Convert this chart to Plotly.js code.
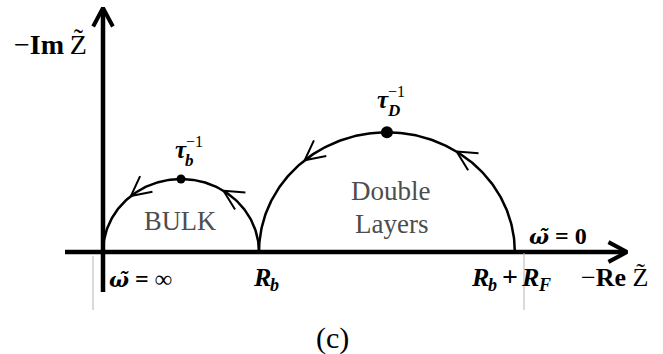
<!DOCTYPE html>
<html>
<head>
<meta charset="utf-8">
<script src="https://cdn.plot.ly/plotly-3.0.1.min.js"></script>
<style>
html, body { margin: 0; padding: 0; background: #ffffff; }
#chart { width: 663px; height: 354px; }
</style>
</head>
<body>
<div id="chart"></div>
<script>
// ---- values (Re Z in units of R_b) ----
const arcNames    = ['BULK', 'Double Layers'];
const arcStart    = [0.0, 1.0];      // where each semicircle leaves the real axis
const arcEnd      = [1.0, 2.64];     // R_b and R_b + R_F
const peakSizes   = [9, 12];         // marker size of the relaxation points
const arrowAngles = [57, 130];       // chevron positions along each arc (degrees)
const peakTau     = ['b', 'D'];      // subscripts of the relaxation times

const W = 663, H = 354;
const FONT = "'Liberation Serif', 'Times New Roman', Times, serif";
// pixel geometry of the drawing (origin and scale)
const OX = 103, OY = 252, PXX = 156, PXY = 146;
const toData = (x, y) => [(x - OX) / PXX, (OY - y) / PXY];
const px = x => x / W;
const py = y => 1 - y / H;

const traces = [];
function addPolyline(ptsPx, width) {
  const xs = [], ys = [];
  ptsPx.forEach(p => { const d = toData(p[0], p[1]); xs.push(d[0]); ys.push(d[1]); });
  traces.push({x: xs, y: ys, type: 'scatter', mode: 'lines', hoverinfo: 'skip',
    line: {color: '#000', width: width}});
}
function chevron(tip, dir, len, halfDeg, width) {
  const h = halfDeg * Math.PI / 180;
  const bx = -dir[0], by = -dir[1];
  const a1 = [tip[0] + len * (bx * Math.cos(h) - by * Math.sin(h)), tip[1] + len * (bx * Math.sin(h) + by * Math.cos(h))];
  const a2 = [tip[0] + len * (bx * Math.cos(-h) - by * Math.sin(-h)), tip[1] + len * (bx * Math.sin(-h) + by * Math.cos(-h))];
  addPolyline([a1, tip, a2], width);
}

// ---- axes with arrowheads ----
addPolyline([[65, OY], [624, OY]], 4.5);
chevron([627, OY], [1, 0], 21, 28, 4);
addPolyline([[OX, 292], [OX, 11]], 4.5);
chevron([OX, 8], [0, -1], 21, 28, 4);

// ---- semicircles, peaks and direction chevrons ----
for (let k = 0; k < arcStart.length; k++) {
  const c = (arcStart[k] + arcEnd[k]) / 2, r = (arcEnd[k] - arcStart[k]) / 2;
  const xs = [], ys = [];
  for (let t = 0; t <= 180; t += 1) {
    const a = t * Math.PI / 180;
    xs.push(c + r * Math.cos(a));
    ys.push(r * Math.sin(a));
  }
  traces.push({x: xs, y: ys, type: 'scatter', mode: 'lines', name: arcNames[k],
    line: {color: '#000', width: 2.5}, hoverinfo: 'skip'});
  traces.push({x: [c], y: [r], type: 'scatter', mode: 'markers',
    marker: {color: '#000', size: peakSizes[k]}, hoverinfo: 'skip'});
  arrowAngles.forEach(deg => {
    const a = deg * Math.PI / 180;
    const tip = [OX + (c + r * Math.cos(a)) * PXX, OY - r * Math.sin(a) * PXY];
    let d = [-r * Math.sin(a) * PXX, -r * Math.cos(a) * PXY];
    const n = Math.hypot(d[0], d[1]); d = [d[0] / n, d[1] / n];
    chevron(tip, d, 22, 27, 2);
  });
}

const annotations = [];
function txt(text, x, yBase, size, opts) {
  opts = opts || {};
  annotations.push(Object.assign({
    text: text, x: px(x), y: py(yBase - 0.34 * size), xref: 'paper', yref: 'paper',
    showarrow: false, xanchor: 'left', yanchor: 'middle', borderpad: 0,
    font: {family: FONT, size: size, color: '#000'}
  }, opts));
}
const OMEGA = '<span style="font-family:DejaVu Serif;font-size:21px">\u03C9\u0303</span>';

// axis titles
txt('\u2212<b>Im</b>\u2009Z\u0303', 13, 54, 28);
txt('\u2212<b>Re</b> Z\u0303', 580, 286, 26);
// real-axis labels
txt('<b><i>' + OMEGA + '</i> = \u221E</b>', 108, 287, 24);
txt('<b><i>' + OMEGA + '</i> = 0</b>', 528, 244, 24);
// R_b
txt('<b><i>R</i></b>', 252, 286, 26);
txt('<b><i>b</i></b>', 269, 291, 18);
// R_b + R_F
txt('<b><i>R</i></b>', 470, 286, 26);
txt('<b><i>b</i></b>', 487, 291, 18);
txt('<b>+</b>', 501, 286, 28);
txt('<b><i>R</i></b>', 520, 286, 26);
txt('<b><i>F</i></b>', 537, 291, 18);
// relaxation times
const tauPos = [[174, 158], [376, 108]];
for (let k = 0; k < peakTau.length; k++) {
  const p = tauPos[k];
  txt('<b><i>\u03C4</i></b>', p[0], p[1], 25);
  txt('<b><i>' + peakTau[k] + '</i></b>', p[0] + 10, p[1] + 8, 17);
  txt('\u22121', p[0] + 11, p[1] - 11, 16);
}
// region names
txt('BULK', 180, 230, 26.5, {xanchor: 'center', font: {family: FONT, size: 26.5, color: '#4d4d4d'}});
txt('Double', 391, 200, 27, {xanchor: 'center', font: {family: FONT, size: 27, color: '#4d4d4d'}});
txt('Layers', 391, 233, 27, {xanchor: 'center', font: {family: FONT, size: 27, color: '#4d4d4d'}});
// panel label
txt('(c)', 332, 348, 30, {xanchor: 'center'});

const shapes = [
  {type: 'line', xref: 'paper', yref: 'paper', x0: px(93), x1: px(93), y0: py(256), y1: py(310),
   line: {color: '#b5b5b5', width: 1}},
  {type: 'line', xref: 'paper', yref: 'paper', x0: px(524), x1: px(524), y0: py(253), y1: py(310),
   line: {color: '#b5b5b5', width: 1}}
];

const layout = {
  width: W, height: H,
  margin: {l: 0, r: 0, t: 0, b: 0, pad: 0},
  paper_bgcolor: '#fff', plot_bgcolor: '#fff',
  showlegend: false,
  xaxis: {range: [(0 - OX) / PXX, (W - OX) / PXX], visible: false, fixedrange: true},
  yaxis: {range: [(OY - H) / PXY, OY / PXY], visible: false, fixedrange: true},
  annotations: annotations,
  shapes: shapes
};

Plotly.newPlot('chart', traces, layout, {displayModeBar: false, staticPlot: true});
</script>
</body>
</html>
